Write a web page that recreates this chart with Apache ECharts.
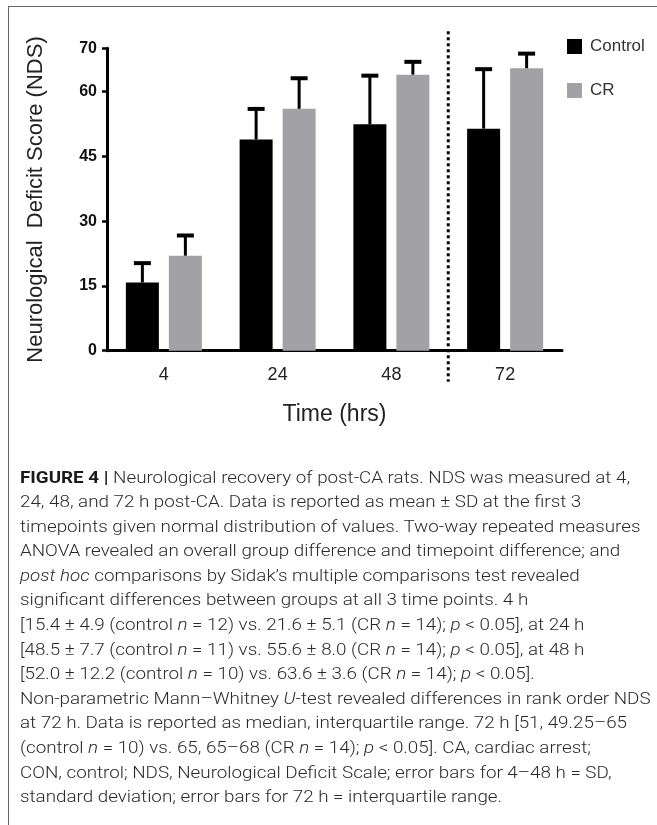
<!DOCTYPE html>
<html>
<head>
<meta charset="utf-8">
<script src="https://cdn.jsdelivr.net/npm/echarts@6/dist/echarts.min.js"></script>
<style>
  html, body { margin: 0; padding: 0; background: #fff; }
  #wrap { position: relative; width: 657px; height: 825px; overflow: hidden; }
  #frame { position: absolute; left: 8px; top: 6px; width: 700px; height: 900px;
           border-top: 1.5px solid #666; border-left: 1.5px solid #666; }
  #chart { position: absolute; left: 0; top: 0; width: 657px; height: 825px; }
  #caption { position: absolute; left: 20px; top: 465.5px; white-space: nowrap;
             font-family: "Roboto", "Liberation Sans", sans-serif; font-weight: 300;
             font-size: 16px; line-height: 24.6px; color: #2a2a2a; transform-origin: 0 0; }
  #caption b { font-weight: bold; color: #1a1a1a; }
</style>
</head>
<body>
<div id="wrap">
  <div id="frame"></div>
  <div id="chart"></div>
  <div id="caption">
    <div><b>FIGURE 4 |</b> Neurological recovery of post-CA rats. NDS was measured at 4,</div>
    <div>24, 48, and 72 h post-CA. Data is reported as mean ± SD at the first 3</div>
    <div>timepoints given normal distribution of values. Two-way repeated measures</div>
    <div>ANOVA revealed an overall group difference and timepoint difference; and</div>
    <div><i>post hoc</i> comparisons by Sidak’s multiple comparisons test revealed</div>
    <div>significant differences between groups at all 3 time points. 4 h</div>
    <div>[15.4 ± 4.9 (control <i>n</i> = 12) vs. 21.6 ± 5.1 (CR <i>n</i> = 14); <i>p</i> &lt; 0.05], at 24 h</div>
    <div>[48.5 ± 7.7 (control <i>n</i> = 11) vs. 55.6 ± 8.0 (CR <i>n</i> = 14); <i>p</i> &lt; 0.05], at 48 h</div>
    <div>[52.0 ± 12.2 (control <i>n</i> = 10) vs. 63.6 ± 3.6 (CR <i>n</i> = 14); <i>p</i> &lt; 0.05].</div>
    <div>Non-parametric Mann–Whitney <i>U</i>-test revealed differences in rank order NDS</div>
    <div>at 72 h. Data is reported as median, interquartile range. 72 h [51, 49.25–65</div>
    <div>(control <i>n</i> = 10) vs. 65, 65–68 (CR <i>n</i> = 14); <i>p</i> &lt; 0.05]. CA, cardiac arrest;</div>
    <div>CON, control; NDS, Neurological Deficit Scale; error bars for 4–48 h = SD,</div>
    <div>standard deviation; error bars for 72 h = interquartile range.</div>
  </div>
</div>
<script>
// ---- data ----
const categories = ['4', '24', '48', '72'];
const seriesNames = ['Control', 'CR'];
const controlValues = [15.8, 48.9, 52.4, 51.4];
const controlErrTop = [20.5, 56.2, 63.9, 65.4];
const crValues = [22.0, 56.0, 63.9, 65.4];
const crErrTop = [26.9, 63.3, 67.1, 69.0];
const yTickValues = [0, 15, 30, 45, 60, 70];
const separatorAfterIndex = 2;

// ---- styles ----
const BAR_W = 33, BAR_GAP = 10, CAP_W = 17;
const COL_CONTROL = '#000000', COL_CR = '#a2a2a6';
const FONT = 'Liberation Sans, Arial, sans-serif';

function errRender(sign) {
  return function (params, api) {
    const ci = api.value(0);
    const base = api.coord([ci, api.value(1)]);
    const top = api.coord([ci, api.value(2)]);
    const x = base[0] + sign * (BAR_W + BAR_GAP) / 2;
    return {
      type: 'group',
      children: [
        { type: 'line', shape: { x1: x, y1: base[1], x2: x, y2: top[1] },
          style: { stroke: '#000', lineWidth: 3 } },
        { type: 'line', shape: { x1: x - CAP_W / 2, y1: top[1] + 1, x2: x + CAP_W / 2, y2: top[1] + 1 },
          style: { stroke: '#000', lineWidth: 4 } }
      ]
    };
  };
}

const chart = echarts.init(document.getElementById('chart'), null, { renderer: 'canvas' });
chart.setOption({
  animation: false,
  backgroundColor: 'transparent',
  grid: { left: 107, right: 95, top: 48.3, bottom: 474.3, containLabel: false },
  legend: {
    data: seriesNames,
    orient: 'vertical',
    left: 562, top: 33,
    icon: 'rect',
    itemWidth: 15, itemHeight: 15, itemGap: 27,
    textStyle: { fontFamily: FONT, fontSize: 17, color: '#333', lineHeight: 15, padding: [0, 0, 0, 3] }
  },
  xAxis: {
    type: 'category',
    data: categories,
    name: 'Time (hrs)',
    nameLocation: 'middle',
    nameGap: 52,
    nameTextStyle: { fontFamily: FONT, fontSize: 23, color: '#222', verticalAlign: 'top' },
    axisLine: { lineStyle: { color: '#000', width: 3 } },
    axisTick: { alignWithLabel: true, length: 6, lineStyle: { color: '#000', width: 3 } },
    axisLabel: { fontFamily: FONT, fontSize: 18, color: '#222', margin: 15 },
    splitLine: { show: false }
  },
  yAxis: {
    type: 'value',
    min: 0, max: 70,
    name: 'Neurological  Deficit Score (NDS)',
    nameLocation: 'middle',
    nameGap: 60,
    nameRotate: 90,
    nameTextStyle: { fontFamily: FONT, fontSize: 22, color: '#222' },
    axisLine: { show: true, lineStyle: { color: '#000', width: 3 } },
    axisTick: { show: true, length: 5, customValues: yTickValues, lineStyle: { color: '#000', width: 2.5 } },
    axisLabel: { customValues: yTickValues, fontFamily: FONT, fontSize: 16,
                 fontWeight: 'bold', color: '#111', margin: 10 },
    splitLine: { show: false }
  },
  series: [
    { name: 'Control', type: 'bar', data: controlValues, barWidth: BAR_W,
      barGap: (BAR_GAP / BAR_W * 100) + '%', itemStyle: { color: COL_CONTROL } },
    { name: 'CR', type: 'bar', data: crValues, barWidth: BAR_W,
      itemStyle: { color: COL_CR } },
    { type: 'custom', name: 'Control err', renderItem: errRender(-1), z: 5,
      data: categories.map((c, i) => [i, controlValues[i], controlErrTop[i]]) },
    { type: 'custom', name: 'CR err', renderItem: errRender(1), z: 5,
      data: categories.map((c, i) => [i, crValues[i], crErrTop[i]]) },
    { type: 'custom', name: 'separator', z: 6,
      renderItem: function (params, api) {
        const ci = api.value(0);
        const band = api.size([1, 0])[0];
        const p0 = api.coord([ci, 0]);
        const p1 = api.coord([ci, 70]);
        const x = p0[0] + band / 2;
        return { type: 'line', shape: { x1: x, y1: p1[1] - 17, x2: x, y2: p0[1] + 31 },
                 style: { stroke: '#000', lineWidth: 3, lineDash: [3, 3] } };
      },
      data: [[separatorAfterIndex]] }
  ]
});

// fit caption width to reference line width
const cap = document.getElementById('caption');
const first = cap.firstElementChild;
const range = document.createRange();
range.selectNodeContents(first);
const w = range.getBoundingClientRect().width;
if (w > 0) cap.style.transform = 'scaleX(' + (610 / w) + ')';
</script>
</body>
</html>
